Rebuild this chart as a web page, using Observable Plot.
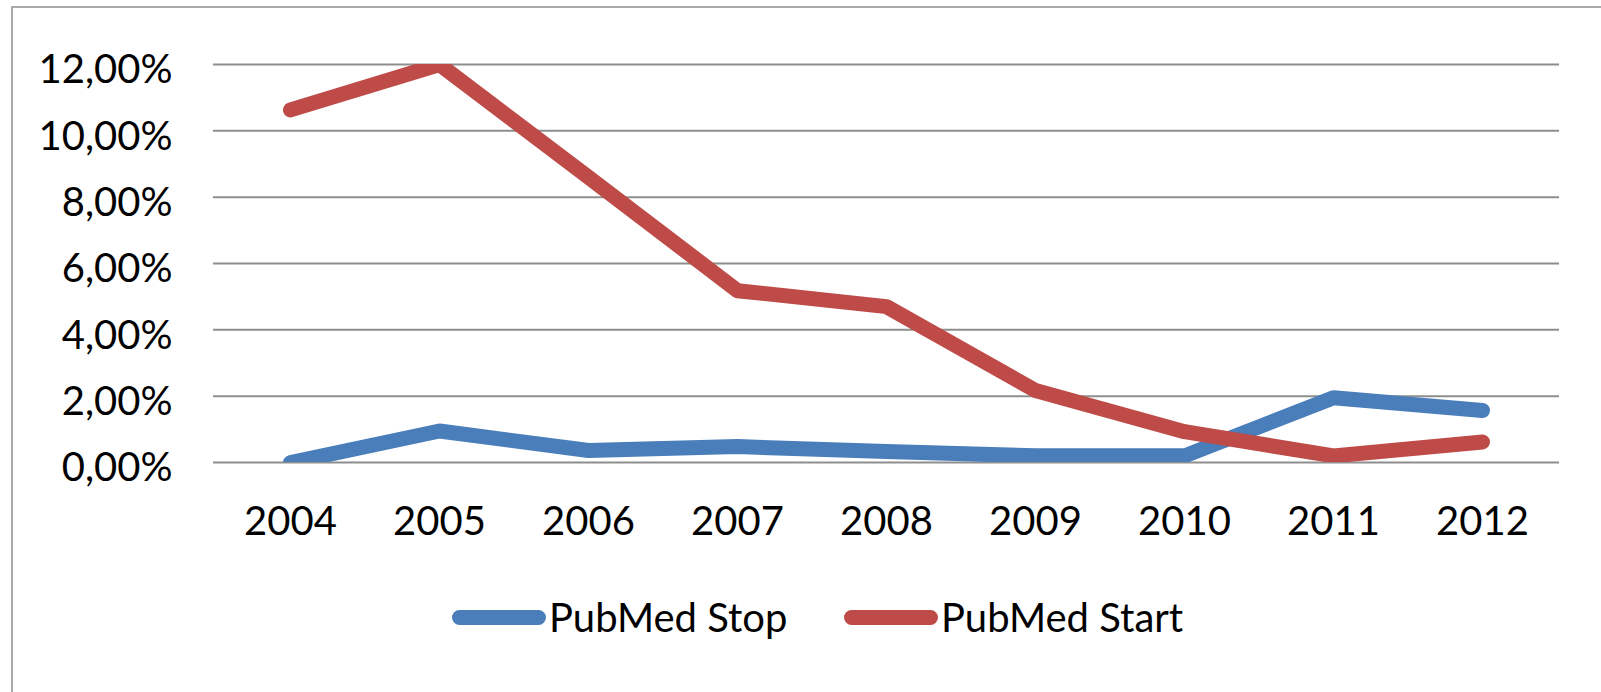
<!DOCTYPE html>
<html>
<head>
<meta charset="utf-8">
<script src="https://cdn.jsdelivr.net/npm/d3@7"></script>
<script src="https://cdn.jsdelivr.net/npm/@observablehq/plot@0.6"></script>
<style>
  html, body { margin: 0; padding: 0; background: #fff; overflow: hidden; width: 1601px; height: 692px; }
  #frame { position: absolute; left: 11px; top: 6px; width: 1700px; height: 800px;
           border-left: 2px solid #a9a9a9; border-top: 2px solid #a9a9a9; box-sizing: border-box; }
  #chart { position: absolute; left: 0; top: 0; }
  .leg { position: absolute; top: 597px; height: 40px; display: flex; align-items: center;
         font-family: Lato, sans-serif; font-size: 40px; color: #000; line-height: 40px; }
  .sw { width: 94px; height: 15px; border-radius: 8px; margin-right: 3px; }
</style>
</head>
<body>
<div id="frame"></div>
<div id="chart"></div>
<div id="legend"></div>
<script>
const years = ["2004","2005","2006","2007","2008","2009","2010","2011","2012"];
const seriesNames = ["PubMed Stop", "PubMed Start"];
const stopValues = [0, 0.95, 0.36, 0.48, 0.33, 0.2, 0.2, 1.95, 1.57];
const startValues = [10.63, 12.0, 8.6, 5.18, 4.7, 2.17, 0.93, 0.2, 0.62];
const yTicks = [0, 2, 4, 6, 8, 10, 12];
const colors = ["#4A7EBB", "#BE4B48"];

const rows = [];
years.forEach((y, i) => rows.push({year: y, series: seriesNames[0], value: stopValues[i]}));
years.forEach((y, i) => rows.push({year: y, series: seriesNames[1], value: startValues[i]}));

const fmt = d => d.toFixed(2).replace(".", ",") + "%";

const chart = Plot.plot({
  width: 1601,
  height: 560,
  marginLeft: 213,
  marginRight: 42,
  marginTop: 64,
  marginBottom: 98,
  style: {background: "transparent", fontFamily: "Lato, sans-serif", fontSize: "40px", color: "#000", overflow: "visible"},
  x: {type: "point", domain: years, padding: 0.5, label: null},
  y: {domain: [0, 12], label: null},
  color: {domain: seriesNames, range: colors},
  marks: [
    Plot.ruleY(yTicks, {stroke: "#8e8e8e", strokeWidth: 2}),
    Plot.axisY({ticks: yTicks, tickFormat: fmt, tickSize: 0, tickPadding: 41, dy: 6, fill: "#000", fontSize: 40, label: null}),
    Plot.axisX({tickSize: 0, tickPadding: 44, fill: "#000", fontSize: 40, label: null}),
    Plot.line(rows, {x: "year", y: "value", z: "series", stroke: "series",
      strokeWidth: 15, strokeLinecap: "round", strokeLinejoin: "round", clip: true})
  ]
});
document.getElementById("chart").appendChild(chart);

const legend = document.getElementById("legend");
const legendLeft = [452, 844];
seriesNames.forEach((name, i) => {
  const item = document.createElement("div");
  item.className = "leg";
  item.style.left = legendLeft[i] + "px";
  const sw = document.createElement("div");
  sw.className = "sw";
  sw.style.background = colors[i];
  const t = document.createElement("span");
  t.textContent = name;
  item.appendChild(sw);
  item.appendChild(t);
  legend.appendChild(item);
});
</script>
</body>
</html>
